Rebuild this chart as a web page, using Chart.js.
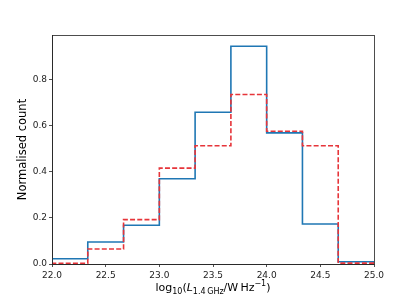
<!DOCTYPE html>
<html>
<head>
<meta charset="utf-8">
<script src="https://cdn.jsdelivr.net/npm/chart.js@4/dist/chart.umd.min.js"></script>
<style>
  html, body { margin: 0; padding: 0; background: #fff; }
  #wrap { width: 415px; height: 297px; position: relative; }
</style>
</head>
<body>
<div id="wrap"><canvas id="c" width="415" height="297"></canvas></div>
<script>
// Bin edges (log10 L_1.4GHz), 9 bins of width 1/3
const binEdges = [22.0, 22.3333, 22.6667, 23.0, 23.3333, 23.6667, 24.0, 24.3333, 24.6667, 25.0];
// Normalised counts per bin
const seriesBlue = [0.023, 0.095, 0.168, 0.369, 0.657, 0.943, 0.568, 0.173, 0.010];
const seriesRed  = [0.003, 0.065, 0.192, 0.415, 0.512, 0.734, 0.575, 0.512, 0.004];
// Tick labels
const xTicks = [22.0, 22.5, 23.0, 23.5, 24.0, 24.5, 25.0];
const yTicks = [0.0, 0.2, 0.4, 0.6, 0.8];

function stepPoints(edges, vals) {
  const pts = [{x: edges[0], y: 0}];
  for (let i = 0; i < vals.length; i++) {
    pts.push({x: edges[i], y: vals[i]});
    pts.push({x: edges[i + 1], y: vals[i]});
  }
  pts.push({x: edges[edges.length - 1], y: 0});
  return pts;
}

const FONT = "'DejaVu Sans', sans-serif";

const framePlugin = {
  id: 'frame',
  afterDraw(chart) {
    const {ctx, chartArea: a} = chart;
    ctx.save();
    ctx.strokeStyle = '#222';
    ctx.lineWidth = 0.8;
    ctx.strokeRect(Math.round(a.left) + 0.5, Math.round(a.top) + 0.5,
                   Math.round(a.right - a.left), Math.round(a.bottom - a.top));
    // x-axis title with sub/superscripts
    const parts = [
      {t: 'log', f: '11px ' + FONT, dy: 0},
      {t: '10', f: '8px ' + FONT, dy: 3},
      {t: '(', f: '11px ' + FONT, dy: 0},
      {t: 'L', f: 'italic 11px ' + FONT, dy: 0},
      {t: '1.4\u2009GHz', f: '8px ' + FONT, dy: 3},
      {t: '/W\u2009Hz', f: '11px ' + FONT, dy: 0},
      {t: '\u22121', f: '8px ' + FONT, dy: -5},
      {t: ')', f: '11px ' + FONT, dy: 0}
    ];
    let total = 0;
    parts.forEach(p => { ctx.font = p.f; p.w = ctx.measureText(p.t).width; total += p.w; });
    let x = (a.left + a.right) / 2 - total / 2;
    const yBase = 291;
    ctx.fillStyle = '#000';
    ctx.textBaseline = 'alphabetic';
    ctx.textAlign = 'left';
    parts.forEach(p => { ctx.font = p.f; ctx.fillText(p.t, x, yBase + p.dy); x += p.w; });
    ctx.restore();
  }
};

new Chart(document.getElementById('c'), {
  type: 'line',
  data: {
    datasets: [
      {
        data: stepPoints(binEdges, seriesBlue),
        borderColor: '#1f77b4',
        borderWidth: 1.6,
        pointRadius: 0,
        tension: 0,
        fill: false,
        order: 2
      },
      {
        data: stepPoints(binEdges, seriesRed),
        borderColor: '#e6353a',
        borderWidth: 1.6,
        borderDash: [5, 2.2],
        pointRadius: 0,
        tension: 0,
        fill: false,
        order: 1
      }
    ]
  },
  options: {
    responsive: false,
    animation: false,
    events: [],
    layout: { padding: { left: 0, top: 35, right: 41, bottom: 0 } },
    plugins: { legend: { display: false }, tooltip: { enabled: false } },
    scales: {
      x: {
        type: 'linear',
        min: 22.0,
        max: 25.0,
        afterBuildTicks(s) { s.ticks = xTicks.map(v => ({value: v})); },
        afterFit(s) { s.height = 33; },
        border: { display: true, color: '#222', width: 0.8 },
        grid: { display: true, drawOnChartArea: false, drawTicks: true, tickLength: 3, color: '#222', lineWidth: 0.8 },
        ticks: {
          color: '#222',
          font: { family: FONT, size: 9 },
          padding: 3,
          maxRotation: 0,
          autoSkip: false,
          callback: v => Number(v).toFixed(1)
        }
      },
      y: {
        type: 'linear',
        min: 0,
        max: 0.9916,
        afterBuildTicks(s) { s.ticks = yTicks.map(v => ({value: v})); },
        afterFit(s) { s.width = 52; },
        border: { display: true, color: '#222', width: 0.8 },
        grid: { display: true, drawOnChartArea: false, drawTicks: true, tickLength: 3, color: '#222', lineWidth: 0.8 },
        title: {
          display: true,
          text: 'Normalised count',
          color: '#000',
          font: { family: FONT, size: 11.5 },
          padding: { top: 16, bottom: 2 }
        },
        ticks: {
          color: '#222',
          font: { family: FONT, size: 9 },
          padding: 2,
          autoSkip: false,
          callback: v => Number(v).toFixed(1)
        }
      }
    }
  },
  plugins: [framePlugin]
});
</script>
</body>
</html>
